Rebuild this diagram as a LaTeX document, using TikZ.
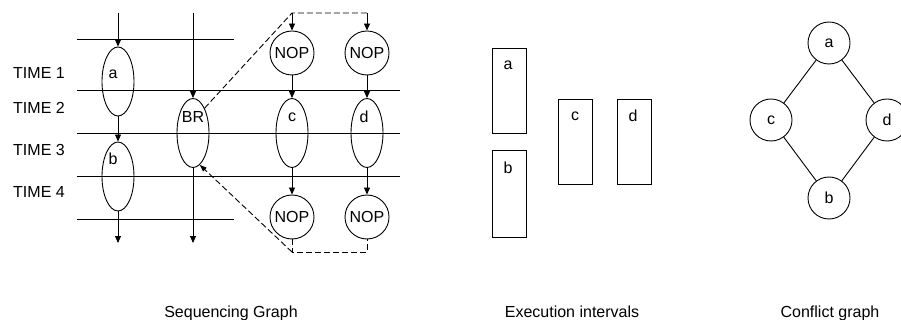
\documentclass[tikz,border=0pt]{standalone}
\usepackage{fontspec}
\setmainfont{Liberation Sans}
\usetikzlibrary{shapes.geometric,arrows.meta}
\begin{document}
\begin{tikzpicture}[x=1pt,y=-1pt,
  every node/.style={font=\fontsize{16}{19}\selectfont},
  line/.style={line width=0.9pt},
  arr/.style={line width=0.9pt,-{Triangle[length=7pt,width=6pt]}},
  dsh/.style={line width=0.9pt,dash pattern=on 6pt off 3pt},
  op/.style={draw,ellipse,line width=0.9pt,minimum width=32pt,minimum height=69pt,inner sep=0pt},
  nop/.style={draw,circle,line width=0.9pt,minimum size=44pt,inner sep=0pt},
  iv/.style={draw,rectangle,line width=0.9pt,inner sep=0pt,minimum width=34pt,anchor=north west},
  cg/.style={draw,circle,line width=0.9pt,minimum size=42pt,inner sep=0pt},
  txt/.style={inner sep=0pt}]
\useasboundingbox (0,0) rectangle (901,320);

% ---------------- Sequencing graph ----------------
% time step boundaries
\draw[line] (77,39) -- (234,39);
\draw[line] (77,90) -- (400,90);
\draw[line] (77,133) -- (400,133);
\draw[line] (77,176) -- (400,176);
\draw[line] (77,219) -- (234,219);

\node[txt,anchor=west] (t1) at (13,73) {TIME 1};
\node[txt,anchor=west] (t2) at (13,108) {TIME 2};
\node[txt,anchor=west] (t3) at (13,150) {TIME 3};
\node[txt,anchor=west] (t4) at (13,192) {TIME 4};

% operations
\node[op] (ea) at (118,81.5) {};
\node[op] (eb) at (118,176.5) {};
\node[op] (ebr) at (193,133) {};
\node[op] (ec) at (292,133) {};
\node[op] (ed) at (367,133) {};
\node[txt] (la) at (113,74) {a};
\node[txt] (lb) at (113,159) {b};
\node[txt] (lbr) at (193,117) {BR};
\node[txt] (lc) at (292,117) {c};
\node[txt] (ld) at (364,117) {d};

% no-operation nodes
\node[nop] (n1) at (292,53) {NOP};
\node[nop] (n2) at (367,53) {NOP};
\node[nop] (n3) at (292,217) {NOP};
\node[nop] (n4) at (367,217) {NOP};

% free ends of the vertical edges
\coordinate (ta) at (118,13);
\coordinate (tbr) at (193,13);
\coordinate (ba) at (118,243);
\coordinate (bbr) at (193,243);
\coordinate (tl) at (292,13);
\coordinate (tr) at (367,13);
\coordinate (bl) at (292,252);
\coordinate (br) at (367,252);

\draw[arr] (ta) -- (ea);
\draw[arr] (ea) -- (eb);
\draw[arr] (eb) -- (ba);
\draw[arr] (tbr) -- (ebr);
\draw[arr] (ebr) -- (bbr);
\draw[arr] (n1) -- (ec);
\draw[arr] (ec) -- (n3);
\draw[arr] (n2) -- (ed);
\draw[arr] (ed) -- (n4);

% branch: taken / not taken paths
\draw[dsh] (ebr.65) -- (tl) -- (tr);
\draw[arr] (tl) -- (n1);
\draw[arr] (tr) -- (n2);
\draw[dsh] (n3) -- (bl) -- (br) -- (n4);
\draw[dsh,-{Triangle[length=7pt,width=5pt]}] (bl) -- (ebr.-78);

% ---------------- Execution intervals ----------------
\node[iv,minimum height=85pt] (ra) at (492,48) {};
\node[iv,minimum height=87pt] (rb) at (492,150) {};
\node[iv,minimum height=85pt] (rc) at (558,99) {};
\node[iv,minimum height=85pt] (rd) at (617,99) {};
\node[txt] (ia) at (508,65) {a};
\node[txt] (ib) at (508,168) {b};
\node[txt] (ic) at (575,116) {c};
\node[txt] (id) at (633,116) {d};

% ---------------- Conflict graph ----------------
\node[cg] (ca) at (829,43) {a};
\node[cg] (cc) at (771,120) {c};
\node[cg] (cd) at (887,120) {d};
\node[cg] (cb) at (829,198) {b};
\draw[line] (ca) -- (cc);
\draw[line] (cc) -- (cb);
\draw[line] (cb) -- (cd);
\draw[line] (cd) -- (ca);

% ---------------- Captions ----------------
\node[txt,anchor=base] (cap1) at (231,317) {Sequencing Graph};
\node[txt,anchor=base] (cap2) at (572,317) {Execution intervals};
\node[txt,anchor=base] (cap3) at (830,317) {Conflict graph};
\end{tikzpicture}
\end{document}
